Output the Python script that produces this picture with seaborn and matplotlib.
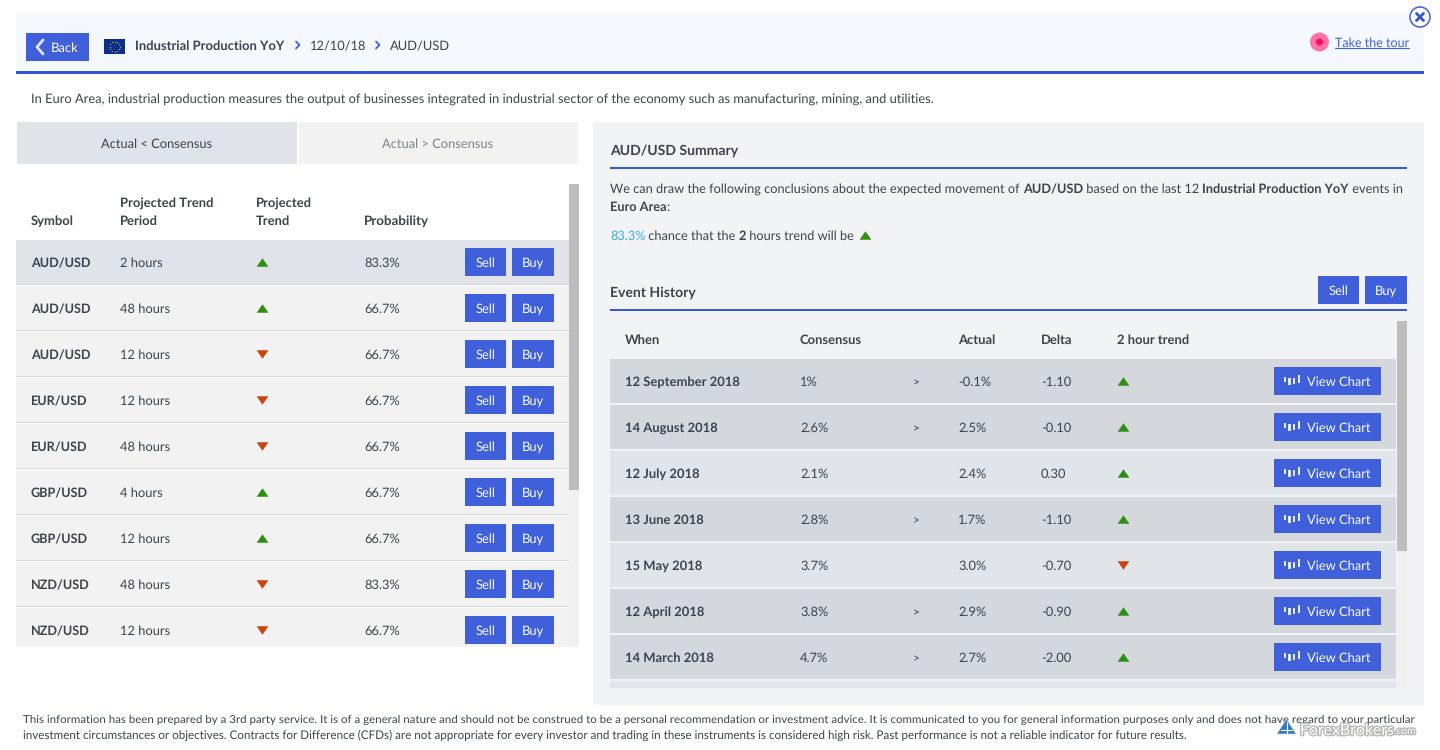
import matplotlib
matplotlib.use("Agg")
import matplotlib.pyplot as plt
import matplotlib.patheffects as pe
from matplotlib.patches import Rectangle, Circle, Polygon
from matplotlib.path import Path
import numpy as np
import pandas as pd
import seaborn as sns

# ---------- data ----------
left_symbols = ["AUD/USD", "AUD/USD", "AUD/USD", "EUR/USD", "EUR/USD", "GBP/USD", "GBP/USD", "NZD/USD", "NZD/USD"]
left_periods = ["2 hours", "48 hours", "12 hours", "12 hours", "48 hours", "4 hours", "12 hours", "48 hours", "12 hours"]
left_trends = ["up", "up", "down", "down", "down", "up", "up", "down", "down"]
left_probs = ["83.3%", "66.7%", "66.7%", "66.7%", "66.7%", "66.7%", "66.7%", "83.3%", "66.7%"]

hist_dates = ["12 September 2018", "14 August 2018", "12 July 2018", "13 June 2018", "15 May 2018", "12 April 2018", "14 March 2018"]
hist_consensus = ["1%", "2.6%", "2.1%", "2.8%", "3.7%", "3.8%", "4.7%"]
hist_signs = [">", ">", "", ">", "", ">", ">"]
hist_actual = ["-0.1%", "2.5%", "2.4%", "1.7%", "3.0%", "2.9%", "2.7%"]
hist_delta = ["-1.10", "-0.10", "0.30", "-1.10", "-0.70", "-0.90", "-2.00"]
hist_trends = ["up", "up", "up", "up", "down", "up", "up"]
hist_shades = ["dark", "dark", "light", "dark", "light", "dark", "dark"]

# ---------- style ----------
sns.set_theme(style="white")
plt.rcParams["font.family"] = ["Lato", "DejaVu Sans"]
plt.rcParams["text.hinting"] = "no_hinting"
plt.rcParams["text.hinting_factor"] = 8

BLUE = "#3f5fdb"
INK = "#3b434d"
GREEN = "#2f8f13"
RED = "#c9440f"
FS = 9.25
FB = 9.36
FP = 9.17

fig = plt.figure(figsize=(14.4, 7.5), dpi=100, facecolor="white")
ax = fig.add_axes([0, 0, 1, 1])
ax.set_axis_off()


def box(x0, y0, x1, y1, color, z=1, **kw):
    ax.add_patch(Rectangle((x0, y0), x1 - x0, y1 - y0, facecolor=color, edgecolor=kw.pop("edge", "none"),
                           linewidth=kw.pop("lw", 0), zorder=z, **kw))


def txt(x, yc, s, color=INK, size=None, weight="normal", ha="left", z=6, **kw):
    if size is None:
        size = FB if weight == "bold" else FS
    return ax.text(x, round(yc + size * 0.5 + 0.6), s, color=color, fontsize=size, fontweight=weight, ha=ha,
                   va="baseline", zorder=z, **kw)


def width(s, size, weight="normal"):
    r = fig.canvas.get_renderer()
    a = ax.text(0, 0, "|" + s + "|", fontsize=size, fontweight=weight)
    b = ax.text(0, 0, "||", fontsize=size, fontweight=weight)
    w = a.get_window_extent(r).width - b.get_window_extent(r).width
    a.remove()
    b.remove()
    return w


def runs(x, yc, parts):
    for s, w, c in parts:
        txt(x, yc, s, color=c, weight=w, size=FP)
        x += width(s, FP, weight=w)
    return x


def button(x0, y0, x1, y1, label):
    box(x0, y0, x1, y1, BLUE, z=4)
    txt((x0 + x1) / 2, (y0 + y1) / 2, label, color="white", ha="center")


tri_up = Path([(-1, -0.72), (1, -0.72), (0, 0.72), (-1, -0.72)])
tri_down = Path([(-1, 0.72), (1, 0.72), (0, -0.72), (-1, 0.72)])


def triangles(xs, ys, trends):
    df = pd.DataFrame({"x": xs, "y": ys, "trend": trends})
    for name, mark, col in (("up", tri_up, GREEN), ("down", tri_down, RED)):
        sub = df[df["trend"] == name]
        if len(sub):
            sns.scatterplot(data=sub, x="x", y="y", color=col, marker=mark, s=72, linewidth=0,
                            legend=False, ax=ax, zorder=5)


# ---------- header ----------
box(16, 13, 1424, 71, "#f5f8fc")
box(16, 71, 1424, 74, "#3558d8")
box(26, 33, 89, 61, BLUE, z=3)
ax.plot([43, 37, 43], [40, 47, 54], color="#dfe5fa", lw=2.0, zorder=5, solid_capstyle="round")
txt(51, 47, "Back", color="white", size=9.36)
box(104, 39, 125, 54, "#0b2f8f", z=3)
ang = np.linspace(0, 2 * np.pi, 12, endpoint=False)
ax.scatter(114.5 + 5 * np.cos(ang), 46.5 + 5 * np.sin(ang), s=0.9, color="#b9a72c", linewidth=0, zorder=4)
txt(135, 45, "Industrial Production YoY", weight="bold")
for x in (296, 376):
    ax.plot([x, x + 3.5, x], [41.5, 45, 48.5], color=BLUE, lw=1.3, zorder=5)
txt(310, 45, "12/10/18")
txt(390, 45, "AUD/USD")

ax.add_patch(Circle((1319.5, 42), 9.5, facecolor="#ff74a3", edgecolor="none", zorder=3))
ax.add_patch(Circle((1319.5, 42), 3.5, facecolor="#fb0e63", edgecolor="none", zorder=4))
txt(1335, 42, "Take the tour", color=BLUE, size=9.0)
ax.plot([1335, 1409], [48, 48], color=BLUE, lw=0.8, zorder=5)
ax.add_patch(Circle((1420, 17), 10, facecolor="white", edgecolor=BLUE, lw=1.1, zorder=7))
ax.plot([1416.5, 1423.5], [13.5, 20.5], color="#3454c8", lw=2, zorder=8)
ax.plot([1416.5, 1423.5], [20.5, 13.5], color="#3454c8", lw=2, zorder=8)

txt(31, 97.5, "In Euro Area, industrial production measures the output of businesses integrated in industrial "
              "sector of the economy such as manufacturing, mining, and utilities.")

# ---------- left table ----------
box(17, 122, 297, 164, "#e0e3e8")
box(299, 122, 578, 164, "#f2f2f3")
txt(157, 143, "Actual < Consensus", ha="center")
txt(438, 143, "Actual > Consensus", color="#7c8288", ha="center")

txt(31, 220, "Symbol", weight="bold")
txt(120, 202.6, "Projected Trend", weight="bold")
txt(120, 220, "Period", weight="bold")
txt(256, 202.6, "Projected", weight="bold")
txt(256, 220, "Trend", weight="bold")
txt(364, 220, "Probability", weight="bold", size=9.6)

box(569, 184, 579, 647, "#f0f0f0")
box(569, 184, 579, 490, "#bdbdbd", z=2)

left_y = [262 + 46 * i for i in range(len(left_symbols))]
for i, yc in enumerate(left_y):
    bottom = min(yc + 22, 647)
    box(16, yc - 22, 569, bottom, "#e0e3e8" if i == 0 else "#f2f2f2")
    if yc + 22 < 647:
        box(16, yc + 21.5, 569, yc + 22.7, "#d5d7da", z=2)
    txt(31, yc, left_symbols[i], weight="bold", size=9.1)
    txt(120, yc, left_periods[i])
    txt(364, yc, left_probs[i])
    button(465, yc - 14, 506, yc + 14, "Sell")
    button(512, yc - 14, 554, yc + 14, "Buy")
triangles([262] * len(left_y), left_y, left_trends)

# ---------- right panel ----------
box(593, 122, 1424, 705, "#f2f3f5")
txt(610, 149.2, "AUD/USD Summary", weight="bold", size=10.1)
box(610, 167, 1407, 169, "#3558d8", z=2)
runs(610, 187.5, [("We can draw the following conclusions about the expected movement of ", "normal", INK),
                  ("AUD/USD", "bold", INK), (" based on the last 12 ", "normal", INK),
                  ("Industrial Production YoY", "bold", INK), (" events in", "normal", INK)])
runs(610, 205.5, [("Euro Area", "bold", INK), (":", "normal", INK)])
runs(610, 235, [("83.3%", "normal", "#3bb0da"), (" chance that the ", "normal", INK),
                ("2", "bold", INK), (" hours trend will be ", "normal", INK)])
triangles([865], [235], ["up"])

txt(610, 291.2, "Event History", weight="bold", size=10.1)
box(610, 309, 1407, 311, "#3558d8", z=2)
button(1318, 276, 1359, 304, "Sell")
button(1365, 276, 1407, 304, "Buy")

txt(625, 339, "When", weight="bold")
txt(800, 339, "Consensus", weight="bold")
txt(958, 339, "Actual", weight="bold")
txt(1041, 339, "Delta", weight="bold")
txt(1117, 339, "2 hour trend", weight="bold")

box(1397, 321, 1407, 688, "#f0f0f1")
box(1397, 321, 1407, 551, "#bdbdbd", z=2)

hist_y = [381 + 46 * i for i in range(len(hist_dates))]
shade = {"dark": "#d4d7db", "light": "#e1e4e8"}
candles = [(1285, -4, 0.5), (1289.5, -3, 4), (1294, -3, 3), (1298.8, -6, 2)]
for i, yc in enumerate(hist_y):
    box(610, yc - 22, 1396, yc + 22, shade[hist_shades[i]])
    txt(625, yc, hist_dates[i], weight="bold")
    txt(800, yc, hist_consensus[i])
    if hist_signs[i]:
        txt(916, yc, hist_signs[i], size=8.5, ha="center")
    txt(958, yc, hist_actual[i])
    txt(1041, yc, hist_delta[i])
    box(1274, yc - 14, 1381, yc + 14, BLUE, z=4)
    txt(1307, yc, "View Chart", color="white")
    for cx, top, bot in candles:
        box(cx - 1.1, yc + top, cx + 1.1, yc + bot, "#e6ebfb", z=5)
box(610, 681, 1396, 688, "#e1e4e8")
triangles([1123] * len(hist_y), hist_y, hist_trends)

# ---------- footer ----------
txt(23, 718, "This information has been prepared by a 3rd party service. It is of a general nature and should not be "
             "construed to be a personal recommendation or investment advice. It is communicated to you for general "
             "information purposes only and does not have regard to your particular", size=8.28)
txt(23, 734, "investment circumstances or objectives. Contracts for Difference (CFDs) are not appropriate for every "
             "investor and trading in these instruments is considered high risk. Past performance is not a reliable "
             "indicator for future results.", size=8.37)

# ---------- watermark ----------
ax.add_patch(Polygon([(1277, 734), (1286.5, 719), (1296, 734)], closed=True, facecolor="#2f7fb8",
                     edgecolor="#c9c9c9", lw=0.5, zorder=8))
ax.plot([1286.5, 1286.5], [722, 734], color="white", lw=0.8, zorder=9)
ax.plot([1281, 1292], [730, 730], color="white", lw=0.8, zorder=9)
shadow = [pe.withStroke(linewidth=2.0, foreground="#9a9a9a", alpha=0.7)]
txt(1300, 729, "ForexBrokers", color="white", size=11.4, z=9, path_effects=shadow)
txt(1394, 730, ".com", color="white", size=7.4, z=9, path_effects=shadow)

ax.set_xlim(0, 1440)
ax.set_ylim(750, 0)
ax.set_xlabel("")
ax.set_ylabel("")
fig.savefig("out.png", dpi=100, facecolor="white")
